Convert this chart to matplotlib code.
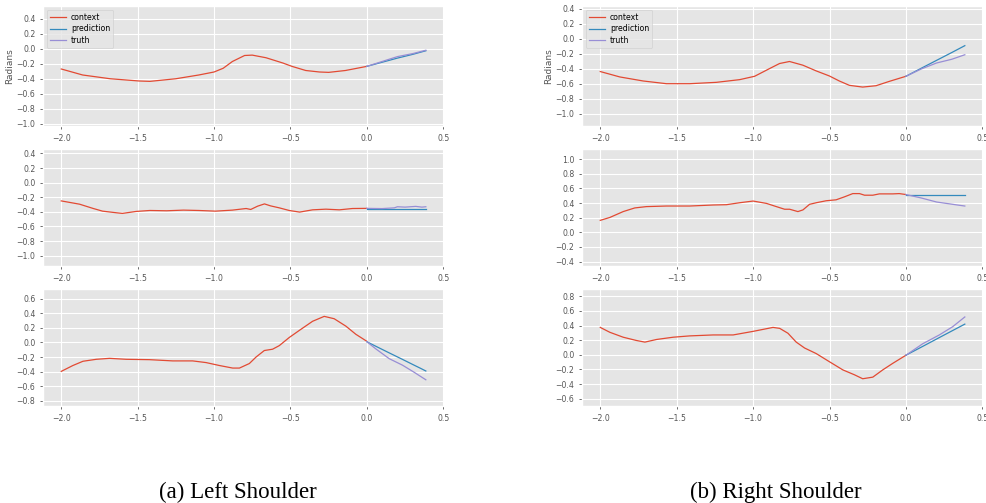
import matplotlib
matplotlib.use('Agg')
import matplotlib.pyplot as plt
from matplotlib.ticker import MultipleLocator, FuncFormatter
import numpy as np

plt.style.use('ggplot')

# ---- data ----
# left shoulder, panel 1
l1_ctx_x = [-2.0, -1.86, -1.68, -1.49, -1.42, -1.25, -1.10, -1.00, -0.94, -0.88, -0.80,
            -0.75, -0.66, -0.55, -0.49, -0.40, -0.31, -0.25, -0.14, 0.0]
l1_ctx_y = [-0.27, -0.35, -0.40, -0.43, -0.435, -0.40, -0.35, -0.31, -0.26, -0.17, -0.09,
            -0.085, -0.12, -0.19, -0.235, -0.29, -0.31, -0.315, -0.29, -0.235]
l1_fut_x = [0.0, 0.1, 0.2, 0.3, 0.386]
l1_pred = [-0.235, -0.18, -0.125, -0.075, -0.027]
l1_true = [-0.235, -0.17, -0.105, -0.065, -0.02]

# left shoulder, panel 2
l2_ctx_x = [-2.0, -1.88, -1.79, -1.73, -1.64, -1.60, -1.51, -1.42, -1.31, -1.20, -1.10,
            -0.99, -0.88, -0.79, -0.76, -0.715, -0.67, -0.63, -0.573, -0.508, -0.44,
            -0.355, -0.268, -0.18, -0.094, 0.0]
l2_ctx_y = [-0.25, -0.295, -0.354, -0.39, -0.412, -0.421, -0.394, -0.381, -0.385, -0.376, -0.381,
            -0.39, -0.376, -0.354, -0.367, -0.322, -0.291, -0.318, -0.345, -0.381, -0.403,
            -0.372, -0.363, -0.372, -0.354, -0.352]
l2_fut_x = [0.0, 0.1, 0.18, 0.2, 0.25, 0.32, 0.36, 0.386]
l2_pred = [-0.354, -0.354, -0.354, -0.354, -0.354, -0.354, -0.354, -0.354]
l2_true = [-0.352, -0.355, -0.345, -0.33, -0.335, -0.325, -0.335, -0.33]

# left shoulder, panel 3
l3_ctx_x = [-2.0, -1.924, -1.858, -1.771, -1.684, -1.575, -1.423, -1.27, -1.14, -1.052,
            -0.965, -0.878, -0.834, -0.769, -0.725, -0.671, -0.617, -0.573, -0.508, -0.442,
            -0.355, -0.279, -0.214, -0.137, -0.072, 0.0]
l3_ctx_y = [-0.396, -0.316, -0.258, -0.231, -0.218, -0.231, -0.236, -0.253, -0.253, -0.276,
            -0.316, -0.351, -0.351, -0.289, -0.2, -0.111, -0.093, -0.044, 0.067, 0.164,
            0.289, 0.356, 0.324, 0.222, 0.111, 0.015]
l3_fut_x = [0.0, 0.059, 0.146, 0.233, 0.31, 0.353, 0.386]
l3_pred = [0.009, -0.053, -0.143, -0.232, -0.312, -0.356, -0.391]
l3_true = [0.009, -0.089, -0.222, -0.311, -0.409, -0.467, -0.511]

# right shoulder, panel 1
r1_ctx_x = [-2.0, -1.872, -1.719, -1.567, -1.415, -1.241, -1.088, -0.99, -0.892, -0.827,
            -0.762, -0.675, -0.588, -0.501, -0.436, -0.37, -0.283, -0.196, -0.109, 0.0]
r1_ctx_y = [-0.434, -0.506, -0.56, -0.596, -0.596, -0.578, -0.542, -0.497, -0.394, -0.327,
            -0.30, -0.349, -0.425, -0.493, -0.56, -0.618, -0.641, -0.623, -0.565, -0.497]
r1_fut_x = [0.0, 0.1, 0.2, 0.3, 0.385]
r1_pred = [-0.497, -0.39, -0.285, -0.18, -0.089]
r1_true = [-0.497, -0.40, -0.32, -0.27, -0.21]

# right shoulder, panel 2
r2_ctx_x = [-2.0, -1.937, -1.85, -1.774, -1.698, -1.567, -1.415, -1.262, -1.175, -1.088,
            -1.0, -0.913, -0.848, -0.794, -0.761, -0.707, -0.674, -0.631, -0.587, -0.522,
            -0.457, -0.402, -0.348, -0.304, -0.271, -0.217, -0.174, -0.087, -0.044, 0.0]
r2_ctx_y = [0.164, 0.204, 0.284, 0.334, 0.352, 0.36, 0.36, 0.374, 0.378, 0.405,
            0.428, 0.396, 0.352, 0.316, 0.316, 0.284, 0.307, 0.383, 0.405, 0.432,
            0.445, 0.486, 0.53, 0.53, 0.508, 0.508, 0.526, 0.526, 0.53, 0.517]
r2_fut_x = [0.0, 0.1, 0.2, 0.3, 0.35, 0.385]
r2_pred = [0.517, 0.517, 0.517, 0.517, 0.517, 0.517]
r2_true = [0.517, 0.47, 0.415, 0.385, 0.37, 0.36]

# right shoulder, panel 3
r3_ctx_x = [-2.0, -1.937, -1.85, -1.763, -1.708, -1.632, -1.523, -1.415, -1.262, -1.131,
            -1.0, -0.87, -0.826, -0.772, -0.718, -0.663, -0.587, -0.501, -0.413, -0.337,
            -0.283, -0.217, -0.152, -0.087, 0.0]
r3_ctx_y = [0.375, 0.308, 0.241, 0.196, 0.174, 0.21, 0.241, 0.259, 0.272, 0.272,
            0.321, 0.375, 0.362, 0.295, 0.174, 0.093, 0.017, -0.094, -0.206, -0.273,
            -0.327, -0.305, -0.206, -0.117, -0.005]
r3_fut_x = [0.0, 0.109, 0.218, 0.305, 0.385]
r3_pred = [-0.005, 0.115, 0.236, 0.332, 0.42]
r3_true = [-0.005, 0.151, 0.272, 0.384, 0.518]

panels = [
    (l1_ctx_x, l1_ctx_y, l1_fut_x, l1_pred, l1_true),
    (l2_ctx_x, l2_ctx_y, l2_fut_x, l2_pred, l2_true),
    (l3_ctx_x, l3_ctx_y, l3_fut_x, l3_pred, l3_true),
    (r1_ctx_x, r1_ctx_y, r1_fut_x, r1_pred, r1_true),
    (r2_ctx_x, r2_ctx_y, r2_fut_x, r2_pred, r2_true),
    (r3_ctx_x, r3_ctx_y, r3_fut_x, r3_pred, r3_true),
]
ylims = [(-1.03, 0.57), (-1.14, 0.46), (-0.87, 0.73),
         (-1.16, 0.44), (-0.46, 1.14), (-0.70, 0.90)]


def fmt(v, pos):
    s = '%.1f' % v
    if s == '-0.0':
        s = '0.0'
    return s.replace('-', '\u2212')


fig = plt.figure(figsize=(9.87, 5.03), dpi=100)
fig.patch.set_facecolor('white')

col_x = [0.0436, 0.5897]
row_y = [(0.7495, 0.2386), (0.4712, 0.2326), (0.1928, 0.2326)]
w = 0.4063

for i, (cx, cy, fx, fp, ft) in enumerate(panels):
    col, row = i // 3, i % 3
    ax = fig.add_axes([col_x[col], row_y[row][0], w, row_y[row][1]])
    ax.plot(cx, cy, color='#E24A33', lw=0.9, label='context')
    ax.plot(fx, fp, color='#348ABD', lw=0.9, label='prediction')
    ax.plot(fx, ft, color='#988ED5', lw=0.9, label='truth')
    ax.set_ylim(*ylims[i])
    ax.set_xticks([-2.0, -1.5, -1.0, -0.5, 0.0, 0.5])
    ax.yaxis.set_major_locator(MultipleLocator(0.2))
    ax.yaxis.set_major_formatter(FuncFormatter(fmt))
    ax.xaxis.set_major_formatter(FuncFormatter(fmt))
    ax.tick_params(labelsize=5.6, colors='#555555', length=2, width=0.6)
    for lab in ax.get_xticklabels() + ax.get_yticklabels():
        lab.set_color('#555555')
    if row == 0:
        ax.set_ylabel('Radians', fontsize=6.5, color='#555555', labelpad=2)
        ax.legend(loc='upper left', fontsize=5.6, framealpha=0.8,
                  handlelength=2.0, handletextpad=0.7, borderpad=0.4,
                  labelspacing=0.3)

fig.text(0.241, 0.01, '(a) Left Shoulder', ha='center', va='baseline',
         family='Liberation Serif', fontsize=16.5)
fig.text(0.786, 0.01, '(b) Right Shoulder', ha='center', va='baseline',
         family='Liberation Serif', fontsize=16.5)

fig.savefig('out.png', dpi=100)
